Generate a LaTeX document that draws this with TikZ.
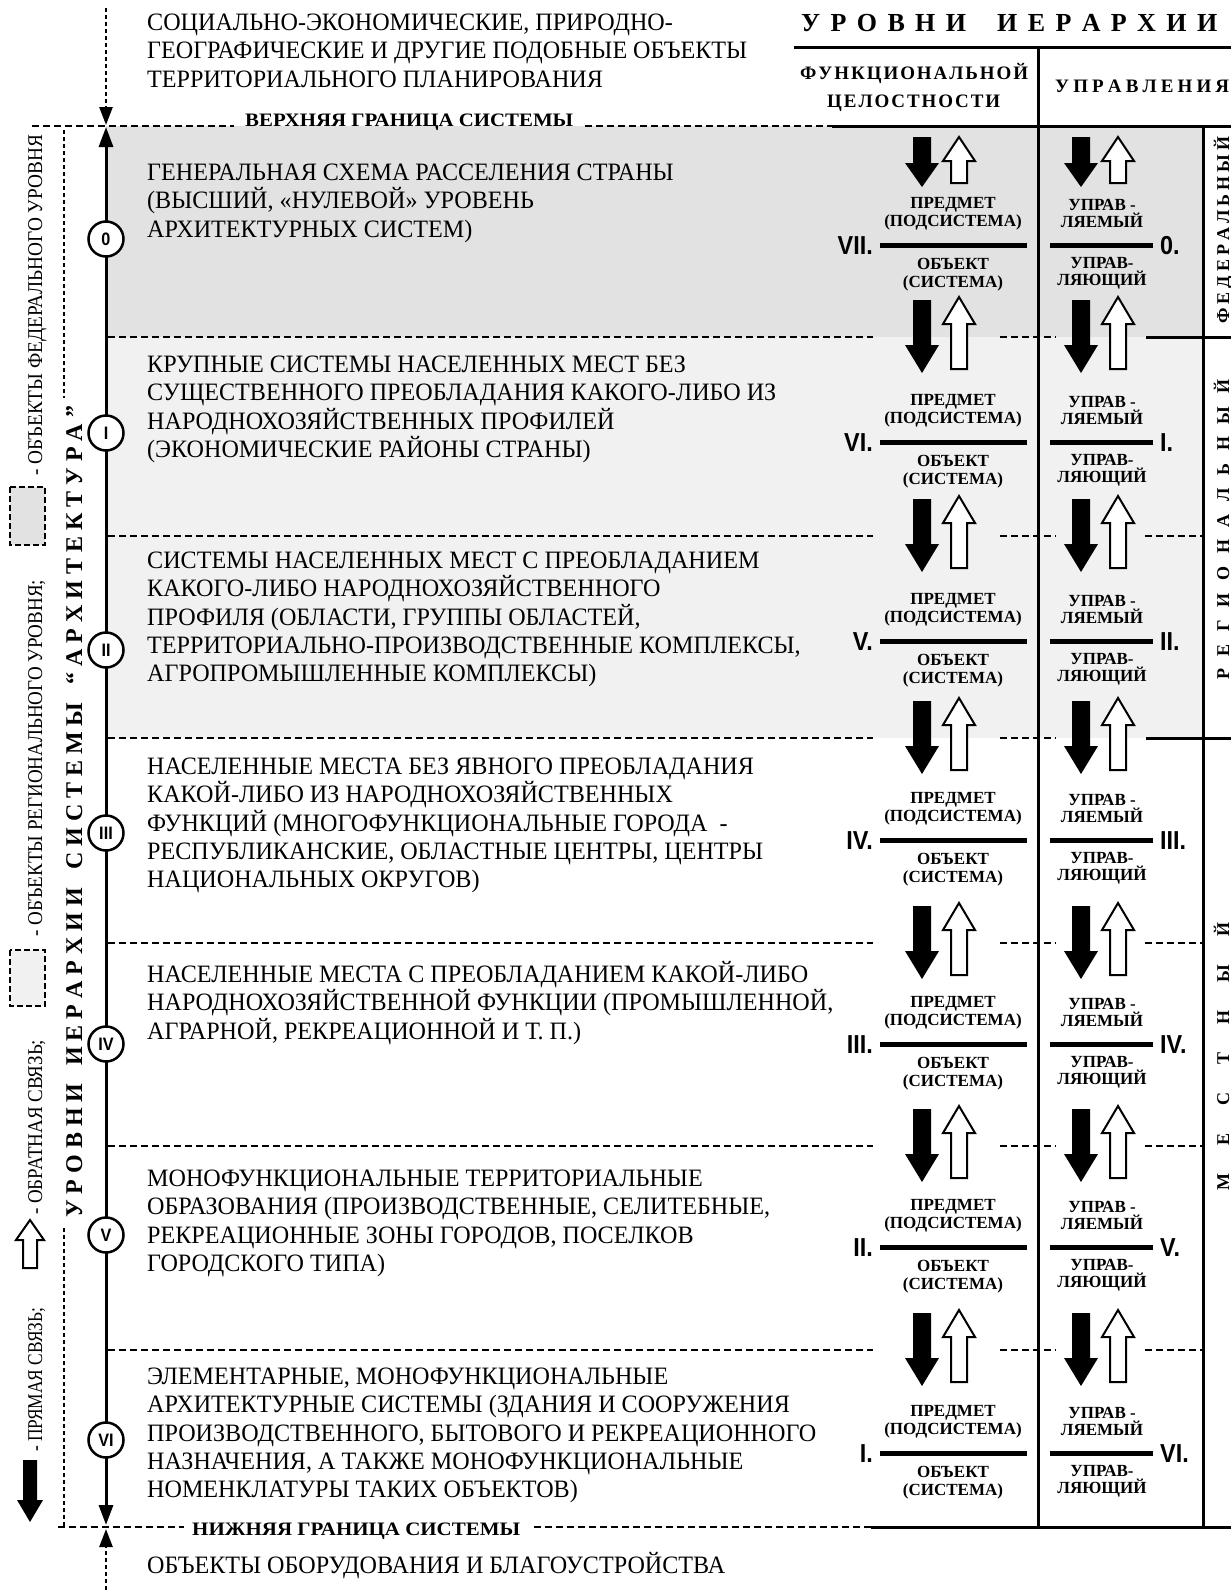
\documentclass[tikz,border=0pt]{standalone}
\usepackage{fontspec}
\usepackage{graphicx}
\setmainfont{Liberation Serif}
\newfontfamily\mainf[FakeStretch=0.965]{Liberation Serif}
\newfontfamily\numf[FakeStretch=0.9]{Liberation Sans}
\usetikzlibrary{arrows.meta}
\definecolor{fedgray}{RGB}{226,226,226}
\definecolor{reggray}{RGB}{241,241,241}
\def\lsp#1{\lspA#1\lspend}
\def\lspA#1#2\lspend{#1\ifx\relax#2\relax\else\hfill\lspA#2\lspend\fi}
\def\wgap{\hskip 0pt plus 3fill\relax}
\newcommand\blackarrow[6]{\fill[black] ({#1-#4},{#2}) -- ({#1+#4},{#2}) -- ({#1+#4},{#3-(#6)}) -- ({#1+#5},{#3-(#6)}) -- (#1,{#3}) -- ({#1-#5},{#3-(#6)}) -- ({#1-#4},{#3-(#6)}) -- cycle;}
\newcommand\whitearrow[6]{\draw[line width=2pt,fill=white,line join=miter] ({#1-#4},{#2}) -- ({#1+#4},{#2}) -- ({#1+#4},{#3-(#6)}) -- ({#1+#5},{#3-(#6)}) -- (#1,{#3}) -- ({#1-#5},{#3-(#6)}) -- ({#1-#4},{#3-(#6)}) -- cycle;}
\newcommand\tblock[3]{\foreach \lineT [count=\i from 0] in {#3}{\node[mtext] (#1\i) at (147,{#2+28.3*\i}) {\lineT};}}
\tikzset{
 mtext/.style={anchor=base west, inner sep=0pt, font=\mainf\fontsize{25}{28}\selectfont},
 fb/.style={anchor=base, inner sep=0pt, font=\bfseries\fontsize{17}{18}\selectfont},
 numl/.style={anchor=base east, inner sep=0pt, font=\numf\bfseries\fontsize{26}{27}\selectfont},
 numr/.style={anchor=base west, inner sep=0pt, font=\numf\bfseries\fontsize{26}{27}\selectfont},
 lvl/.style={circle, draw, line width=2.5pt, fill=white, minimum size=35pt, inner sep=0pt, font=\numf\bfseries\fontsize{18}{18}\selectfont},
 bnd/.style={line width=2.5pt, dash pattern=on 7pt off 4pt},
 dotline/.style={line width=2.5pt, dash pattern=on 4pt off 3pt},
 solidl/.style={line width=3pt},
 fracl/.style={line width=5pt},
 spaced/.style={anchor=base west, inner sep=0pt, font=\bfseries\fontsize{#1}{#1}\selectfont},
 legt/.style={anchor=base west, inner sep=0pt, rotate=90, font=\fontsize{21}{21}\selectfont},
 boxd/.style={line width=2.5pt, dash pattern=on 6pt off 3pt},
 tip/.style={-{Triangle[width=13pt,length=18pt]}}
}
\begin{document}
\begin{tikzpicture}[x=1pt,y=-1pt]
\useasboundingbox (0,0) rectangle (1231,1590);
\clip (0,0) rectangle (1231,1590);
\fill[white] (0,0) rectangle (1231,1590);
% backgrounds
\fill[fedgray] (106,126) rectangle (1203,337);
\fill[reggray] (106,337) rectangle (1203,738);
% frame lines
\draw[solidl] (794,47) -- (1231,47);
\draw[solidl] (1038,47) -- (1038,1527);
\draw[solidl] (1203,126) -- (1203,1527);
\draw[bnd] (32,126) -- (234,126);
\draw[bnd] (585,126) -- (832,126);
\draw[solidl] (832,126) -- (1231,126);
\draw[bnd] (58,1527) -- (184,1527);
\draw[bnd] (534,1527) -- (871,1527);
\draw[solidl] (871,1527) -- (1231,1527);
\foreach \b in {337,536,738,943,1146,1350} {
  \draw[bnd] (108,\b) -- (873,\b);
  \draw[bnd] (1000,\b) -- (1056,\b);
}
\foreach \b in {536,943,1146,1350} { \draw[bnd] (1145,\b) -- (1203,\b); }
\draw[solidl] (1146,337) -- (1231,337);
\draw[solidl] (1146,738) -- (1231,738);
% bracket
\draw[dotline] (64,130) -- (64,398);
\draw[dotline] (64,1228) -- (64,1527);
% main axis and dotted arrows
\draw[solidl, {Triangle[width=14pt,length=20pt]}-{Triangle[width=14pt,length=20pt]}] (106,127) -- (106,1525);
\draw[dotline, tip] (106,8) -- (106,125);
\draw[dotline, tip] (106,1590) -- (106,1529);
% level circles
\foreach \yy/\t [count=\k] in {239/0,433/I,650/II,833/III,1044/IV,1235/V,1440/VI} {
  \node[lvl] (c\k) at (106,\yy) {\t};
}
% headers
\node[spaced=26] (h1) at (801,31) {\hbox to 416pt{\lsp{УРОВНИ}\wgap\lsp{ИЕРАРХИИ}}};
\node[spaced=19] (h2) at (800,79) {\hbox to 228pt{\lsp{ФУНКЦИОНАЛЬНОЙ}}};
\node[spaced=19] (h3) at (827,107) {\hbox to 173pt{\lsp{ЦЕЛОСТНОСТИ}}};
\node[spaced=19] (h4) at (1055,92) {\hbox to 174pt{\lsp{УПРАВЛЕНИЯ}}};
\node[spaced=19] (vg) at (245,126) {\resizebox{328pt}{\height}{ВЕРХНЯЯ ГРАНИЦА СИСТЕМЫ}};
\node[spaced=19] (ng) at (192,1535) {\resizebox{328pt}{\height}{НИЖНЯЯ ГРАНИЦА СИСТЕМЫ}};
% rotated labels
\node[spaced=24, rotate=90] (brl) at (82,1218) {\hbox to 812pt{\lsp{УРОВНИ}\wgap\lsp{ИЕРАРХИИ}\wgap\lsp{СИСТЕМЫ}\wgap\lsp{“АРХИТЕКТУРА”}}};
\node[spaced=18, rotate=90] (fed) at (1229,324) {\hbox to 187pt{\lsp{ФЕДЕРАЛЬНЫЙ}}};
\node[spaced=18, rotate=90] (reg) at (1229,680) {\hbox to 300pt{\lsp{РЕГИОНАЛЬНЫЙ}}};
\node[spaced=18, rotate=90] (loc) at (1229,1191) {\hbox to 268pt{\lsp{МЕСТНЫЙ}}};
% legend
\blackarrow{30}{1460}{1522}{7}{13}{22}
\whitearrow{30}{1268}{1220}{7}{14}{-20}
\draw[boxd, fill=fedgray] (10,487) rectangle (45,545);
\draw[boxd, fill=reggray] (10,950) rectangle (45,1006);
\node[legt] (lg1) at (42,1452) {\resizebox{144pt}{\height}{- ПРЯМАЯ СВЯЗЬ;}};
\node[legt] (lg2) at (42,1215) {\resizebox{175pt}{\height}{- ОБРАТНАЯ СВЯЗЬ;}};
\node[legt] (lg3) at (42,937) {\resizebox{357pt}{\height}{- ОБЪЕКТЫ РЕГИОНАЛЬНОГО УРОВНЯ;}};
\node[legt] (lg4) at (42,476) {\resizebox{341pt}{\height}{- ОБЪЕКТЫ ФЕДЕРАЛЬНОГО УРОВНЯ}};
% arrows pairs
\blackarrow{922}{137}{187}{9}{17}{24}
\whitearrow{959}{183}{137}{8}{16}{-24}
\blackarrow{1081}{137}{187}{9}{17}{24}
\whitearrow{1118}{183}{137}{8}{16}{-24}
\foreach \b in {337,536,738,943,1146,1350} {
  \blackarrow{922}{\b-37}{\b+36}{9}{17}{28}
  \whitearrow{959}{\b+32}{\b-40}{8}{16}{-27}
  \blackarrow{1081}{\b-37}{\b+36}{9}{17}{28}
  \whitearrow{1118}{\b+32}{\b-40}{8}{16}{-27}
}
% fractions
\foreach \y/\l/\r [count=\k] in {245/VII./0., 442/VI./I., 641/V./II., 840/IV./III., 1044/III./IV., 1247/II./V., 1453/I./VI.} {
  \draw[fracl] (880,\y) -- (1027,\y);
  \draw[fracl] (1050,\y) -- (1153,\y);
  \node[fb] (pa\k) at (953,\y-37) {ПРЕДМЕТ};
  \node[fb] (pb\k) at (953,\y-19) {(ПОДСИСТЕМА)};
  \node[fb] (pc\k) at (953,\y+24) {ОБЪЕКТ};
  \node[fb] (pd\k) at (953,\y+42) {(СИСТЕМА)};
  \node[fb] (ua\k) at (1102,\y-35) {УПРАВ -};
  \node[fb] (ub\k) at (1102,\y-18) {ЛЯЕМЫЙ};
  \node[fb] (uc\k) at (1102,\y+23) {УПРАВ-};
  \node[fb] (ud\k) at (1102,\y+40) {ЛЯЮЩИЙ};
  \node[numl] (nl\k) at (873,\y+9) {\l};
  \node[numr] (nr\k) at (1160,\y+9) {\r};
}
% main texts
\tblock{tt}{30.5}{{СОЦИАЛЬНО-ЭКОНОМИЧЕСКИЕ, ПРИРОДНО-},{ГЕОГРАФИЧЕСКИЕ И ДРУГИЕ ПОДОБНЫЕ ОБЪЕКТЫ},{ТЕРРИТОРИАЛЬНОГО ПЛАНИРОВАНИЯ}}
\tblock{ta}{180.5}{{ГЕНЕРАЛЬНАЯ СХЕМА РАССЕЛЕНИЯ СТРАНЫ},{(ВЫСШИЙ, «НУЛЕВОЙ» УРОВЕНЬ},{АРХИТЕКТУРНЫХ СИСТЕМ)}}
\tblock{tb}{372.5}{{КРУПНЫЕ СИСТЕМЫ НАСЕЛЕННЫХ МЕСТ БЕЗ},{СУЩЕСТВЕННОГО ПРЕОБЛАДАНИЯ КАКОГО-ЛИБО ИЗ},{НАРОДНОХОЗЯЙСТВЕННЫХ ПРОФИЛЕЙ},{(ЭКОНОМИЧЕСКИЕ РАЙОНЫ СТРАНЫ)}}
\tblock{tc}{568.5}{{СИСТЕМЫ НАСЕЛЕННЫХ МЕСТ С ПРЕОБЛАДАНИЕМ},{КАКОГО-ЛИБО НАРОДНОХОЗЯЙСТВЕННОГО},{ПРОФИЛЯ (ОБЛАСТИ, ГРУППЫ ОБЛАСТЕЙ,},{ТЕРРИТОРИАЛЬНО-ПРОИЗВОДСТВЕННЫЕ КОМПЛЕКСЫ,},{АГРОПРОМЫШЛЕННЫЕ КОМПЛЕКСЫ)}}
\tblock{td}{774.5}{{НАСЕЛЕННЫЕ МЕСТА БЕЗ ЯВНОГО ПРЕОБЛАДАНИЯ},{КАКОЙ-ЛИБО ИЗ НАРОДНОХОЗЯЙСТВЕННЫХ},{ФУНКЦИЙ (МНОГОФУНКЦИОНАЛЬНЫЕ ГОРОДА~~-},{РЕСПУБЛИКАНСКИЕ, ОБЛАСТНЫЕ ЦЕНТРЫ, ЦЕНТРЫ},{НАЦИОНАЛЬНЫХ ОКРУГОВ)}}
\tblock{te}{982.5}{{НАСЕЛЕННЫЕ МЕСТА С ПРЕОБЛАДАНИЕМ КАКОЙ-ЛИБО},{НАРОДНОХОЗЯЙСТВЕННОЙ ФУНКЦИИ (ПРОМЫШЛЕННОЙ,},{АГРАРНОЙ, РЕКРЕАЦИОННОЙ И Т. П.)}}
\tblock{tf}{1186.5}{{МОНОФУНКЦИОНАЛЬНЫЕ ТЕРРИТОРИАЛЬНЫЕ},{ОБРАЗОВАНИЯ (ПРОИЗВОДСТВЕННЫЕ, СЕЛИТЕБНЫЕ,},{РЕКРЕАЦИОННЫЕ ЗОНЫ ГОРОДОВ, ПОСЕЛКОВ},{ГОРОДСКОГО ТИПА)}}
\tblock{tg}{1384.5}{{ЭЛЕМЕНТАРНЫЕ, МОНОФУНКЦИОНАЛЬНЫЕ},{АРХИТЕКТУРНЫЕ СИСТЕМЫ (ЗДАНИЯ И СООРУЖЕНИЯ},{ПРОИЗВОДСТВЕННОГО, БЫТОВОГО И РЕКРЕАЦИОННОГО},{НАЗНАЧЕНИЯ, А ТАКЖЕ МОНОФУНКЦИОНАЛЬНЫЕ},{НОМЕНКЛАТУРЫ ТАКИХ ОБЪЕКТОВ)}}
\tblock{th}{1573.5}{{ОБЪЕКТЫ ОБОРУДОВАНИЯ И БЛАГОУСТРОЙСТВА}}
\end{tikzpicture}
\end{document}
